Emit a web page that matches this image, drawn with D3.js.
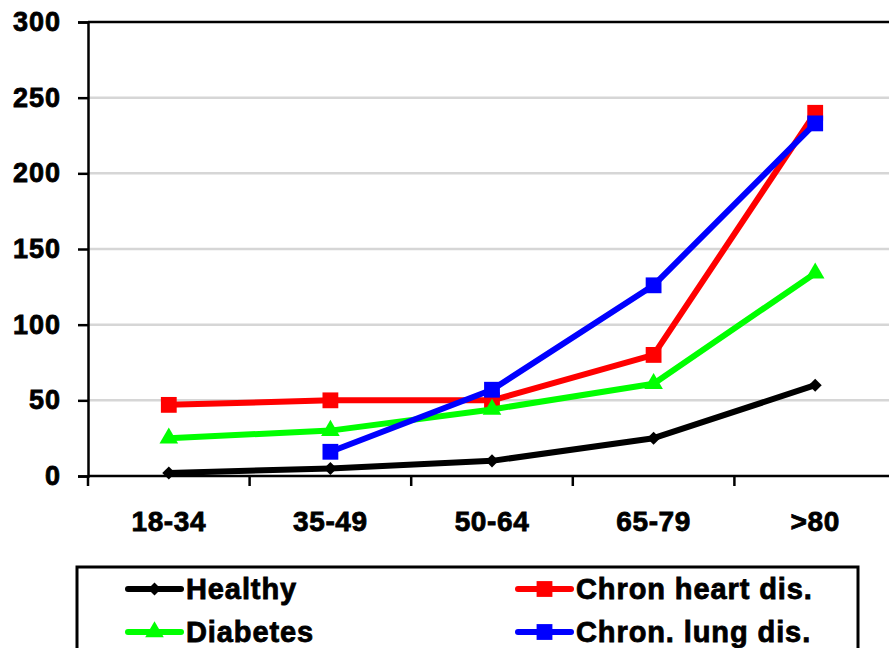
<!DOCTYPE html>
<html>
<head>
<meta charset="utf-8">
<script src="https://cdn.jsdelivr.net/npm/d3@7"></script>
<style>
  html, body { margin: 0; padding: 0; background: #fff; }
  svg { display: block; }
  text { font-family: "Liberation Sans", Arial, sans-serif; font-weight: bold; fill: #000; stroke: #000; stroke-width: 0.8px; }
</style>
</head>
<body>
<svg id="chart" width="889" height="648"></svg>
<script>
// Age groups on the x axis
const categories = ["18-34", "35-49", "50-64", "65-79", ">80"];
// Y axis ticks
const yTicks = [0, 50, 100, 150, 200, 250, 300];

// Series values per age group (null = no value)
const healthy  = [2, 5, 10, 25, 60];
const heart    = [47, 50, 50, 80, 240];
const diabetes = [25, 30, 44, 61, 134];
const lung     = [null, 16, 57, 126, 233];

const seriesNames  = ["Healthy", "Chron heart dis.", "Diabetes", "Chron. lung dis."];
const seriesValues = [healthy, heart, diabetes, lung];
const seriesColors = ["#000000", "#ff0000", "#00ff00", "#0000ff"];
const seriesShapes = ["diamond", "square", "triangle", "square"];

const svg = d3.select("#chart");

const plotLeft = 88, plotTop = 22, plotBottom = 476, plotRight = 896;

const x = d3.scaleBand().domain(categories).range([plotLeft, plotRight]);
const y = d3.scaleLinear().domain([0, 300]).range([plotBottom, plotTop]);

// Horizontal gridlines
svg.append("g")
  .selectAll("line")
  .data(yTicks.filter(t => t > 0 && t < 300))
  .join("line")
  .attr("x1", plotLeft).attr("x2", plotRight)
  .attr("y1", d => y(d)).attr("y2", d => y(d))
  .attr("stroke", "#d6d6d6")
  .attr("stroke-width", 2.5);

// Top border of plot area
svg.append("line")
  .attr("x1", plotLeft).attr("x2", plotRight)
  .attr("y1", y(300)).attr("y2", y(300))
  .attr("stroke", "#000").attr("stroke-width", 2.5);

// Y axis
const yAxis = d3.axisLeft(y).tickValues(yTicks).tickSize(10).tickPadding(17);
const gy = svg.append("g").attr("transform", `translate(${plotLeft},0)`).call(yAxis);
gy.select(".domain").attr("stroke", "#000").attr("stroke-width", 2.5);
gy.selectAll(".tick line").attr("stroke", "#000").attr("stroke-width", 2.5);
gy.selectAll(".tick text")
  .style("font-size", "27px")
  .style("font-family", "'Liberation Sans', Arial, sans-serif")
  .style("font-weight", "bold")
  .style("letter-spacing", "1px")
  .attr("fill", "#000");

// X axis: tick marks sit on category boundaries
const gx = svg.append("g").attr("transform", `translate(0,${plotBottom})`);
gx.append("line")
  .attr("x1", plotLeft).attr("x2", plotRight)
  .attr("stroke", "#000").attr("stroke-width", 2.5);
const boundaries = categories.map(c => x(c)).concat([x(categories[categories.length - 1]) + x.bandwidth()]);
gx.selectAll(".xtick")
  .data(boundaries)
  .join("line")
  .attr("class", "xtick")
  .attr("x1", d => d).attr("x2", d => d)
  .attr("y1", 0).attr("y2", 10)
  .attr("stroke", "#000").attr("stroke-width", 2.5);
gx.selectAll(".xlabel")
  .data(categories)
  .join("text")
  .attr("class", "xlabel")
  .attr("x", d => x(d) + x.bandwidth() / 2)
  .attr("y", 55)
  .attr("text-anchor", "middle")
  .style("font-size", "28px")
  .style("letter-spacing", "0.6px")
  .text(d => d);

// Marker shapes
function markerPath(shape) {
  if (shape === "square") return d3.symbol(d3.symbolSquare, 250)();
  if (shape === "triangle") return d3.symbol(d3.symbolTriangle, 150)();
  return d3.symbol(d3.symbolSquare, 85)();
}
function markerRotate(shape) {
  return shape === "diamond" ? " rotate(45)" : "";
}

const line = d3.line()
  .defined(d => d.v !== null)
  .x(d => x(d.c) + x.bandwidth() / 2)
  .y(d => y(d.v));

seriesValues.forEach((vals, i) => {
  const pts = categories.map((c, j) => ({ c, v: vals[j] }));
  const g = svg.append("g");
  g.append("path")
    .datum(pts)
    .attr("d", line)
    .attr("fill", "none")
    .attr("stroke", seriesColors[i])
    .attr("stroke-width", 6)
    .attr("stroke-linejoin", "round");
  g.selectAll("path.mk")
    .data(pts.filter(d => d.v !== null))
    .join("path")
    .attr("class", "mk")
    .attr("d", markerPath(seriesShapes[i]))
    .attr("transform", d => `translate(${x(d.c) + x.bandwidth() / 2},${y(d.v)})` + markerRotate(seriesShapes[i]))
    .attr("fill", seriesColors[i]);
});

// Legend
const legend = svg.append("g");
legend.append("rect")
  .attr("x", 77).attr("y", 567)
  .attr("width", 781).attr("height", 120)
  .attr("fill", "#fff")
  .attr("stroke", "#000").attr("stroke-width", 3);

const legendPos = [
  { lx: 126, ly: 589 },
  { lx: 516, ly: 589 },
  { lx: 126, ly: 632 },
  { lx: 516, ly: 632 }
];
seriesNames.forEach((name, i) => {
  const p = legendPos[i];
  const g = legend.append("g");
  g.append("line")
    .attr("x1", p.lx + 2).attr("x2", p.lx + 55)
    .attr("y1", p.ly).attr("y2", p.ly)
    .attr("stroke", seriesColors[i]).attr("stroke-width", 6)
    .attr("stroke-linecap", "round");
  g.append("path")
    .attr("d", markerPath(seriesShapes[i]))
    .attr("transform", `translate(${p.lx + 28.5},${p.ly})` + markerRotate(seriesShapes[i]))
    .attr("fill", seriesColors[i]);
  g.append("text")
    .attr("x", p.lx + 60)
    .attr("y", p.ly + 10)
    .style("font-size", "29px")
    .style("letter-spacing", "0.9px")
    .text(name);
});
</script>
</body>
</html>
